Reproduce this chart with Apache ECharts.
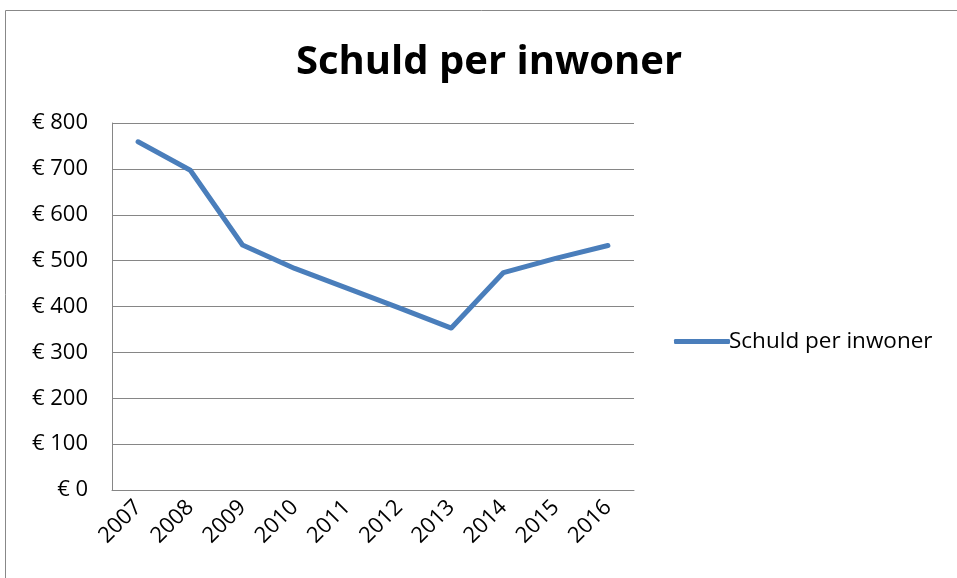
<!DOCTYPE html>
<html>
<head>
<meta charset="utf-8">
<script src="https://cdn.jsdelivr.net/npm/echarts@6/dist/echarts.min.js"></script>
<style>
  html, body { margin: 0; padding: 0; background: #fff; }
  #chart { width: 957px; height: 578px; }
</style>
</head>
<body>
<div id="chart"></div>
<script>
// data
var years = ["2007", "2008", "2009", "2010", "2011", "2012", "2013", "2014", "2015", "2016"];
var schuld = [759, 697, 534, 483, 440, 397, 353, 474, 505, 533];
var seriesName = "Schuld per inwoner";

var myChart = echarts.init(document.getElementById("chart"));
var font = "Open Sans, Liberation Sans, sans-serif";

var option = {
    animation: false,
    textStyle: { fontFamily: font },
    title: {
        text: seriesName,
        left: 484,
        textAlign: "center",
        top: 38,
        textStyle: { fontSize: 40, fontWeight: "bold", color: "#000", fontFamily: font }
    },
    legend: {
        data: [seriesName],
        orient: "vertical",
        left: 669,
        top: 325,
        itemWidth: 56,
        itemHeight: 5,
        itemGap: 4,
        icon: "roundRect",
        textStyle: { fontSize: 22.5, color: "#000", padding: [0, 0, 0, -6] }
    },
    grid: { left: 112, right: 323, top: 123, bottom: 88 },
    xAxis: {
        type: "category",
        data: years,
        boundaryGap: true,
        axisLine: { lineStyle: { color: "#868686", width: 1 } },
        axisTick: { show: false },
        axisLabel: { rotate: 45, fontSize: 22, color: "#000", margin: 14 }
    },
    yAxis: {
        type: "value",
        min: 0,
        max: 800,
        interval: 100,
        axisLine: { show: true, lineStyle: { color: "#868686", width: 1 } },
        axisTick: { show: false },
        splitLine: { lineStyle: { color: "#868686", width: 1 } },
        axisLabel: {
            fontSize: 22,
            color: "#000",
            margin: 24,
            formatter: function (v) { return "€ " + v; }
        }
    },
    series: [
        {
            name: seriesName,
            type: "line",
            data: schuld,
            symbol: "none",
            lineStyle: { color: "#4a7ebb", width: 5, cap: "round", join: "round" },
            itemStyle: { color: "#4a7ebb" }
        }
    ],
    graphic: [
        {
            type: "polyline",
            shape: { points: [[5.5, 578], [5.5, 10.5], [957, 10.5]] },
            style: { stroke: "#888", lineWidth: 1, fill: null }
        }
    ]
};

myChart.setOption(option);
</script>
</body>
</html>
